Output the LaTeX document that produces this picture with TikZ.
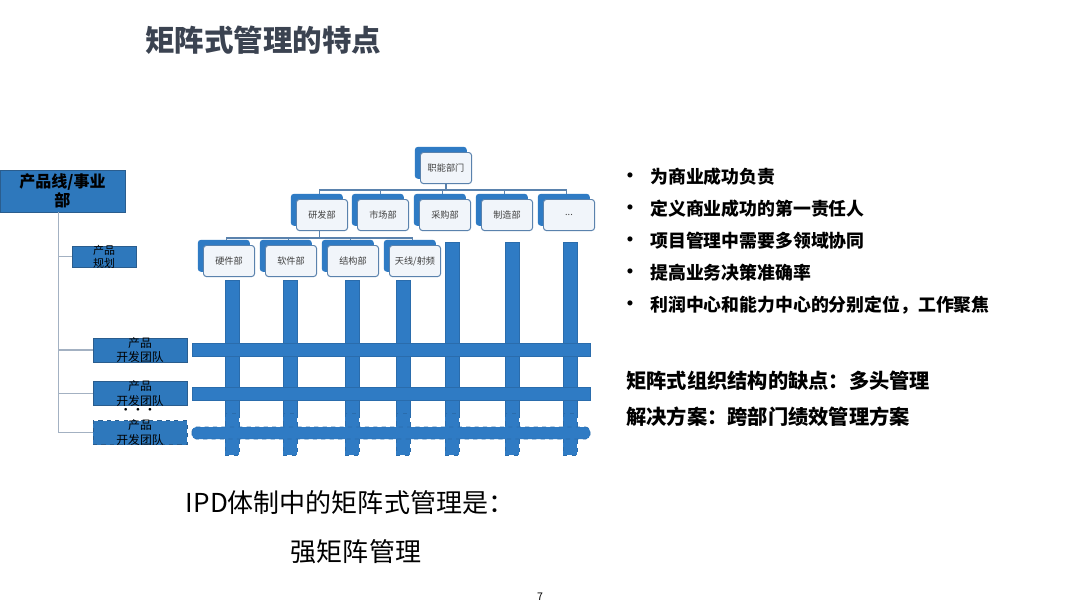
\documentclass[tikz,border=0pt]{standalone}
\usepackage{fontspec}
\setmainfont{Noto Sans CJK SC}
\usepackage{xcolor}
\usepackage{tikz}
\usetikzlibrary{shadows}
\definecolor{mblue}{HTML}{2F7BC4}
\definecolor{mline}{HTML}{2A6CAC}
\definecolor{lblue}{HTML}{2E78BC}
\definecolor{lline}{HTML}{2A5D8E}
\definecolor{orgfill}{HTML}{F1F5FA}
\definecolor{orgdraw}{HTML}{5A82AD}
\definecolor{treegray}{HTML}{A3B1C2}
\definecolor{titlegray}{HTML}{3B4351}
\tikzset{
    orgbox/.style={draw=orgdraw, fill=orgfill, line width=0.7pt, rounded corners=2pt, minimum width=1.275cm, minimum height=0.775cm, inner sep=1pt, font=\fontsize{6.5}{7}\selectfont, text=black!75, copy shadow={shadow xshift=-0.13cm, shadow yshift=0.13cm, fill=mblue, draw=mblue}},
    orgline/.style={draw=orgdraw, line width=0.9pt},
    treeline/.style={draw=treegray, line width=0.8pt},
    mbar/.style={fill=mblue, draw=mline, line width=0.5pt},
    bluebox/.style={fill=lblue, draw=lline, line width=0.6pt, inner sep=0pt},
    boxtxt/.style={align=center, inner sep=0pt, font=\fontsize{8.4}{10}\selectfont},
    plain/.style={inner sep=0pt, text=black}
}
\begin{document}
\begin{tikzpicture}[x=0.025cm, y=-0.025cm]
    \useasboundingbox[fill=white] (0,0) rectangle (1080,608);
    \node[plain, anchor=west, text=titlegray, font=\fontsize{21}{25}\selectfont\bfseries] (title) at (145,40) {矩阵式管理的特点};

    \node[orgbox] (zn) at (446,168) {职能部门};
    \node[orgbox] (yf) at (322,215) {研发部};
    \node[orgbox] (sc) at (383,215) {市场部};
    \node[orgbox] (cg) at (445,215) {采购部};
    \node[orgbox] (zz) at (507,215) {制造部};
    \node[orgbox] (more) at (569,215) {...};
    \node[orgbox] (yj) at (229,261) {硬件部};
    \node[orgbox] (rj) at (291,261) {软件部};
    \node[orgbox] (jg) at (353,261) {结构部};
    \node[orgbox] (tx) at (415,261) {天线/射频};

    \draw[orgline] (zn.south) -- ++(0,6) coordinate (zb);
    \draw[orgline] (zb) -| ([xshift=-0.06cm,yshift=0.13cm]yf.north);
    \draw[orgline] (zb) -| ([xshift=-0.06cm,yshift=0.13cm]sc.north);
    \draw[orgline] (zb) -| ([xshift=-0.06cm,yshift=0.13cm]cg.north);
    \draw[orgline] (zb) -| ([xshift=-0.06cm,yshift=0.13cm]zz.north);
    \draw[orgline] (zb) -| ([xshift=-0.06cm,yshift=0.13cm]more.north);
    \draw[orgline] ([xshift=-0.06cm]yf.south) -- ++(0,7) coordinate (yb);
    \draw[orgline] (yb) -| ([xshift=-0.06cm,yshift=0.13cm]yj.north);
    \draw[orgline] (yb) -| ([xshift=-0.06cm,yshift=0.13cm]rj.north);
    \draw[orgline] (yb) -| ([xshift=-0.06cm,yshift=0.13cm]jg.north);
    \draw[orgline] (yb) -| ([xshift=-0.06cm,yshift=0.13cm]tx.north);

    \draw[mbar] (225,280) rectangle (239,413);
    \draw[mbar] (283,280) rectangle (297,413);
    \draw[mbar] (345,280) rectangle (359,413);
    \draw[mbar] (396,280) rectangle (410,413);
    \draw[mbar] (445,242) rectangle (459,413);
    \draw[mbar] (505,242) rectangle (519,413);
    \draw[mbar] (563,242) rectangle (577,413);
    \draw[mbar, dashed] (225,413) rectangle (239,455);
    \draw[mbar, dashed] (283,413) rectangle (297,455);
    \draw[mbar, dashed] (345,413) rectangle (359,455);
    \draw[mbar, dashed] (396,413) rectangle (410,455);
    \draw[mbar, dashed] (445,413) rectangle (459,455);
    \draw[mbar, dashed] (505,413) rectangle (519,455);
    \draw[mbar, dashed] (563,413) rectangle (577,455);
    \draw[mbar] (192,343) rectangle (590,356);
    \draw[mbar] (192,387) rectangle (590,400);
    \draw[mbar, dashed, rounded corners=3pt] (192,427) rectangle (590,439);

    \node[bluebox, minimum width=3.125cm, minimum height=1.05cm, align=center, font=\fontsize{11.4}{14}\selectfont\bfseries] (lb) at (62.5,191) {产品线/事业\\部};
    \node[bluebox, minimum width=1.6cm, minimum height=0.525cm, label={[boxtxt, font=\fontsize{7.8}{9.2}\selectfont]center:产品\\规划}] (gh) at (104,256.5) {};
    \node[bluebox, minimum width=2.35cm, minimum height=0.6cm, label={[boxtxt]center:产品\\开发团队}] (kf1) at (140,350) {};
    \node[bluebox, minimum width=2.35cm, minimum height=0.6cm, label={[boxtxt]center:产品\\开发团队}] (kf2) at (140,393.5) {};
    \node[bluebox, dashed, minimum width=2.35cm, minimum height=0.6cm, label={[boxtxt]center:产品\\开发团队}] (kf3) at (140,432.5) {};
    \node[plain, font=\fontsize{7}{8}\selectfont\bfseries] (dots) at (138,411) {• • •};
    \draw[treeline] ([xshift=-0.1cm]lb.south) |- (gh.west);
    \draw[treeline] ([xshift=-0.1cm]lb.south) |- (kf1.west);
    \draw[treeline] ([xshift=-0.1cm]lb.south) |- (kf2.west);
    \draw[treeline] ([xshift=-0.1cm]lb.south) |- (kf3.west);

    \node[plain, font=\fontsize{17}{18}\selectfont] (m1) at (630,179) {•};
    \node[plain, font=\fontsize{17}{18}\selectfont] (m2) at (630,211) {•};
    \node[plain, font=\fontsize{17}{18}\selectfont] (m3) at (630,243) {•};
    \node[plain, font=\fontsize{17}{18}\selectfont] (m4) at (630,275) {•};
    \node[plain, font=\fontsize{17}{18}\selectfont] (m5) at (630,307) {•};
    \node[plain, anchor=west, font=\fontsize{12.7}{15}\selectfont\bfseries] (b1) at (650,177) {为商业成功负责};
    \node[plain, anchor=west, font=\fontsize{12.7}{15}\selectfont\bfseries] (b2) at (650,209) {定义商业成功的第一责任人};
    \node[plain, anchor=west, font=\fontsize{12.7}{15}\selectfont\bfseries] (b3) at (650,241) {项目管理中需要多领域协同};
    \node[plain, anchor=west, font=\fontsize{12.7}{15}\selectfont\bfseries] (b4) at (650,273) {提高业务决策准确率};
    \node[plain, anchor=west, font=\fontsize{12.7}{15}\selectfont\bfseries] (b5) at (650,305) {利润中心和能力中心的分别定位，工作聚焦};
    \node[plain, anchor=west, font=\fontsize{14.4}{17}\selectfont\bfseries] (q1) at (626,381) {矩阵式组织结构的缺点：多头管理};
    \node[plain, anchor=west, font=\fontsize{14.4}{17}\selectfont\bfseries] (q2) at (626,417) {解决方案：跨部门绩效管理方案};

    \node[plain, font=\fontsize{18.5}{22}\selectfont] (ipd) at (350,503) {IPD体制中的矩阵式管理是：};
    \node[plain, font=\fontsize{18.5}{22}\selectfont] (qjz) at (356,552) {强矩阵管理};
    \node[plain, font=\fontsize{7.5}{9}\selectfont] (pg) at (540,597) {7};
\end{tikzpicture}
\end{document}
